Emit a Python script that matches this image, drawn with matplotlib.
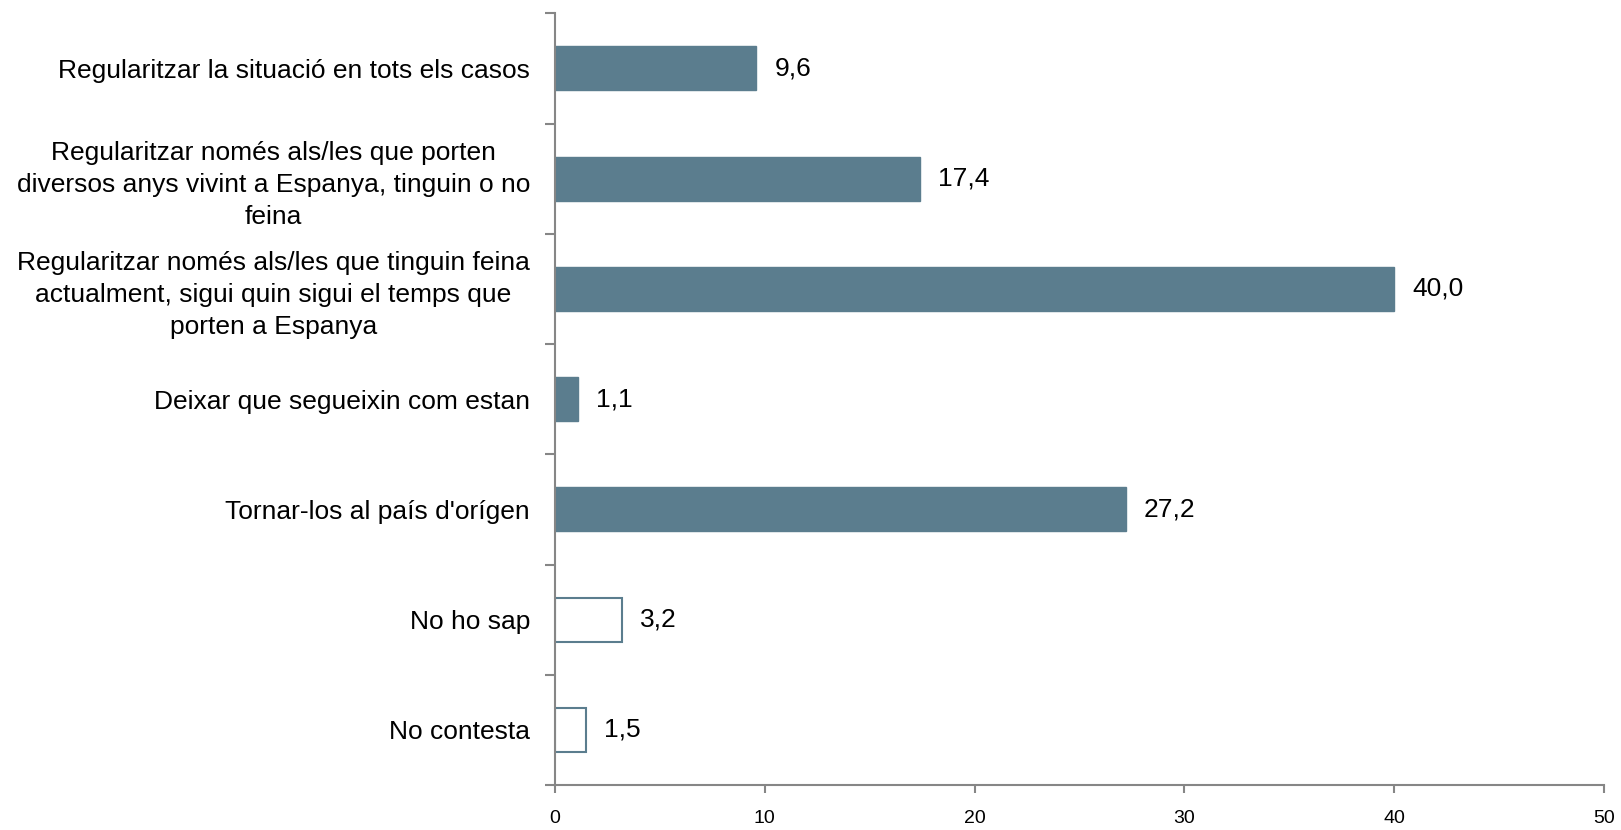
import numpy as np
import matplotlib.pyplot as plt

plt.rcParams['font.family'] = ['Liberation Sans', 'DejaVu Sans']

categories = [
    "Regularitzar la situació en tots els casos",
    "Regularitzar només als/les que porten\ndiversos anys vivint a Espanya, tinguin o no\nfeina",
    "Regularitzar només als/les que tinguin feina\nactualment, sigui quin sigui el temps que\nporten a Espanya",
    "Deixar que segueixin com estan",
    "Tornar-los al país d'orígen",
    "No ho sap",
    "No contesta",
]
values = [9.6, 17.4, 40.0, 1.1, 27.2, 3.2, 1.5]
filled = [True, True, True, True, True, False, False]

bar_color = "#5B7D8E"
axis_color = "#868686"

fig = plt.figure(figsize=(16.21, 8.30), dpi=100)
ax = fig.add_axes([0.3424, 0.0542, 0.9895 - 0.3424, 0.984 - 0.0542])

y = np.arange(len(categories))
for yi, v, f in zip(y, values, filled):
    if f:
        ax.barh(yi, v, height=0.4, color=bar_color, edgecolor=bar_color, linewidth=1)
    else:
        ax.barh(yi, v, height=0.4, color="white", edgecolor=bar_color, linewidth=1.5)
    ax.text(v + 0.85, yi, f"{v:.1f}".replace(".", ","), va="center", ha="left", fontsize=19)

ax.set_ylim(len(categories) - 0.5, -0.5)
ax.set_xlim(0, 50)

ax.set_yticks(y)
ax.set_yticklabels(categories, fontsize=19, multialignment="center", linespacing=1.42)
ax.tick_params(axis="y", which="major", length=0, pad=18)
ax.set_yticks(np.arange(-0.5, len(categories), 1), minor=True)
ax.tick_params(axis="y", which="minor", length=7, width=1.5, color=axis_color, direction="out")

ax.set_xticks([0, 10, 20, 30, 40, 50])
ax.tick_params(axis="x", length=6, width=1.5, color=axis_color, direction="out", pad=12, labelsize=14)

for s in ["top", "right"]:
    ax.spines[s].set_visible(False)
for s in ["left", "bottom"]:
    ax.spines[s].set_color(axis_color)
    ax.spines[s].set_linewidth(1.5)

fig.savefig("out.png", dpi=100)
